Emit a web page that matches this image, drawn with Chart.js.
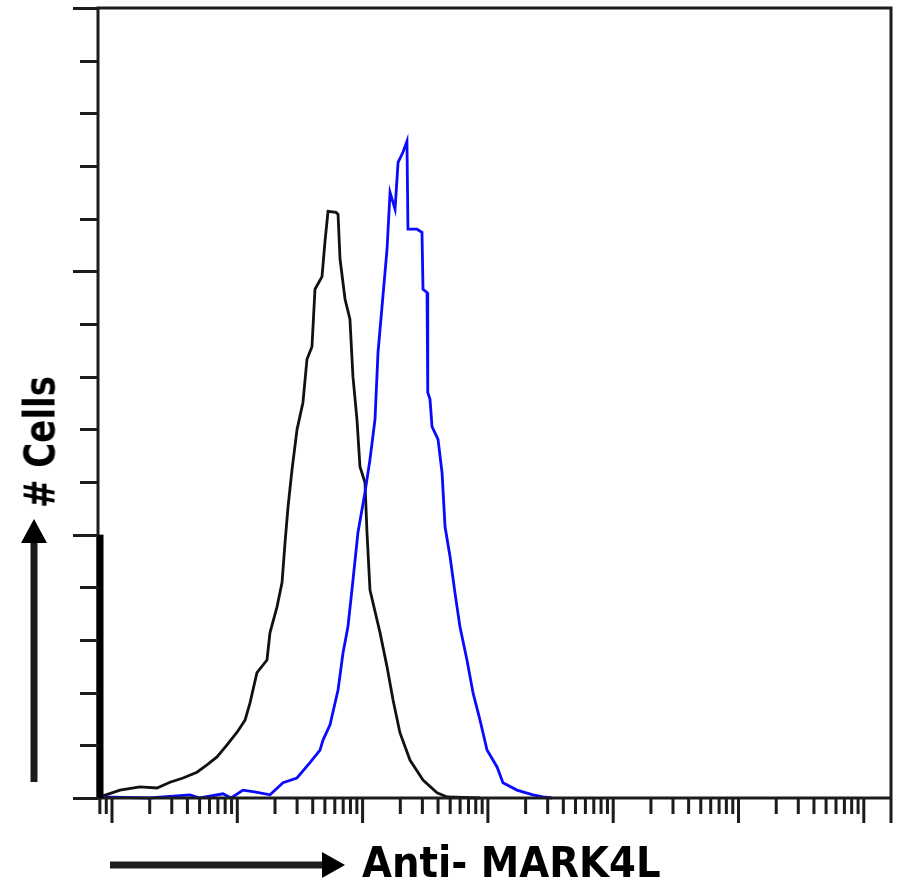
<!DOCTYPE html>
<html>
<head>
<meta charset="utf-8">
<title>Anti- MARK4L</title>
<script src="https://cdn.jsdelivr.net/npm/chart.js@4.4.1/dist/chart.umd.min.js"></script>
<style>
  html, body { margin: 0; padding: 0; background: #fff; }
  #wrap { position: relative; width: 901px; height: 885px; overflow: hidden; }
  #hist { position: absolute; left: 0; top: 0; }
  .lbl {
    position: absolute; white-space: nowrap; line-height: 1;
    font-family: "DejaVu Sans Condensed", "DejaVu Sans", sans-serif;
    font-weight: bold; font-size: 43px; color: #000;
  }
  #xlabel { left: 362px; top: 841px; }
  #ylabel { left: 40px; top: 442px; transform: translate(-50%, -50%) rotate(-90deg) scaleX(0.88); }
</style>
</head>
<body>
<div id="wrap">
  <canvas id="hist" width="901" height="885"></canvas>
  <div class="lbl" id="xlabel">Anti- MARK4L</div>
  <div class="lbl" id="ylabel"># Cells</div>
</div>
<script>
// x is log10 of fluorescence intensity (decades), y is cell count (axis units)
const isotypeLogX = [-0.096, 0.064, 0.223, 0.359, 0.463, 0.567, 0.678, 0.758, 0.838, 0.918,
  0.998, 1.062, 1.102, 1.157, 1.237, 1.261, 1.317, 1.357, 1.381, 1.405, 1.437, 1.477, 1.524,
  1.556, 1.596, 1.620, 1.676, 1.700, 1.724, 1.788, 1.804, 1.820, 1.860, 1.899, 1.923, 1.955,
  1.979, 2.019, 2.035, 2.059, 2.139, 2.195, 2.243, 2.298, 2.378, 2.482, 2.594, 2.674, 2.937];
const isotypeCount = [0.02, 0.15, 0.21, 0.19, 0.30, 0.38, 0.49, 0.63, 0.78, 1.01,
  1.25, 1.48, 1.81, 2.38, 2.62, 3.14, 3.63, 4.09, 4.85, 5.53, 6.24, 7.00, 7.51,
  8.33, 8.57, 9.66, 9.90, 10.57, 11.14, 11.12, 11.08, 10.23, 9.47, 9.09, 8.00, 7.19,
  6.29, 5.99, 5.04, 3.95, 3.14, 2.49, 1.86, 1.24, 0.72, 0.34, 0.10, 0.02, 0.0];

const antibodyLogX = [-0.104, -0.080, 0.30, 0.623, 0.70, 0.886, 0.95, 1.045, 1.149, 1.261,
  1.365, 1.476, 1.580, 1.660, 1.684, 1.740, 1.804, 1.844, 1.883, 1.915, 1.963, 2.019, 2.059,
  2.099, 2.123, 2.155, 2.195, 2.219, 2.259, 2.283, 2.322, 2.354, 2.362, 2.434, 2.474, 2.482,
  2.514, 2.520, 2.538, 2.554, 2.602, 2.634, 2.658, 2.698, 2.737, 2.777, 2.833, 2.881, 2.937,
  2.993, 3.073, 3.120, 3.232, 3.360, 3.440, 3.512];
const antibodyCount = [0.15, 0.02, 0.0, 0.06, 0.0, 0.08, 0.0, 0.15, 0.11, 0.06,
  0.29, 0.38, 0.67, 0.91, 1.10, 1.39, 2.05, 2.76, 3.25, 3.95, 5.04, 5.80, 6.43,
  7.19, 8.46, 9.33, 10.42, 11.50, 11.18, 12.07, 12.26, 12.47, 10.80, 10.80, 10.74, 9.66,
  9.60, 7.70, 7.57, 7.05, 6.81, 6.18, 5.15, 4.58, 3.90, 3.25, 2.62, 2.00, 1.48,
  0.91, 0.59, 0.29, 0.15, 0.06, 0.02, 0.0];

const xDecades = [-1, 0, 1, 2, 3, 4, 5, 6];
const minorFactors = [2, 3, 4, 5, 6, 7, 8, 9, 10];
const yTicks = [0, 1, 2, 3, 4, 5, 6, 7, 8, 9, 10, 11, 12, 13, 14, 15];
const X_MIN = -0.1117, X_MAX = 6.217;

const toPoints = (xs, ys) => xs.map((x, i) => ({ x, y: ys[i] }));

// frame, log ticks, arrows
const histFrame = {
  id: 'histFrame',
  afterDraw(chart) {
    const { ctx, chartArea: a, scales: { x, y } } = chart;
    ctx.save();
    ctx.strokeStyle = '#1c1c1c';
    ctx.fillStyle = '#000';
    ctx.lineWidth = 3;
    ctx.lineCap = 'butt';

    ctx.beginPath();
    ctx.moveTo(a.left, a.bottom); ctx.lineTo(a.left, a.top);
    ctx.lineTo(a.right, a.top); ctx.lineTo(a.right, a.bottom + 25);
    ctx.moveTo(a.left, a.bottom); ctx.lineTo(a.right, a.bottom);
    ctx.stroke();

    // lower part of the y axis is drawn heavier in the original
    const y5 = y.getPixelForValue(5);
    ctx.fillRect(a.left - 1.5, y5, 7, a.bottom - y5);

    ctx.beginPath();
    yTicks.forEach(v => {
      const py = Math.round(y.getPixelForValue(v)) + 0.5;
      ctx.moveTo(a.left - (v % 5 === 0 ? 25 : 18), py);
      ctx.lineTo(a.left, py);
    });
    xDecades.forEach(d => {
      minorFactors.forEach(f => {
        const v = d + Math.log10(f);
        if (v < X_MIN || v > X_MAX) return;
        const px = x.getPixelForValue(v);
        ctx.moveTo(px, a.bottom);
        ctx.lineTo(px, a.bottom + (f === 10 ? 25 : 16));
      });
    });
    ctx.stroke();

    // axis direction arrows
    ctx.lineWidth = 7;
    ctx.beginPath();
    ctx.moveTo(110, 865); ctx.lineTo(326, 865);
    ctx.moveTo(34, 782); ctx.lineTo(34, 540);
    ctx.stroke();
    ctx.beginPath();
    ctx.moveTo(322, 852); ctx.lineTo(345, 865); ctx.lineTo(322, 878); ctx.closePath();
    ctx.moveTo(21, 543); ctx.lineTo(34, 519); ctx.lineTo(47, 543); ctx.closePath();
    ctx.fill();
    ctx.restore();
  }
};

new Chart(document.getElementById('hist'), {
  type: 'line',
  data: {
    datasets: [
      { label: 'Anti- MARK4L', data: toPoints(antibodyLogX, antibodyCount), borderColor: '#0a0aff' },
      { label: 'Isotype', data: toPoints(isotypeLogX, isotypeCount), borderColor: '#111111' },
    ],
  },
  options: {
    responsive: false,
    animation: false,
    events: [],
    layout: { padding: { left: 98, right: 10, top: 8, bottom: 87 } },
    elements: {
      point: { radius: 0 },
      line: { borderWidth: 2.8, tension: 0, fill: false },
    },
    datasets: { line: { clip: false } },
    scales: {
      x: { type: 'linear', min: X_MIN, max: X_MAX, display: false },
      y: { min: 0, max: 15, display: false },
    },
    plugins: { legend: { display: false }, tooltip: { enabled: false } },
  },
  plugins: [histFrame],
});
</script>
</body>
</html>
